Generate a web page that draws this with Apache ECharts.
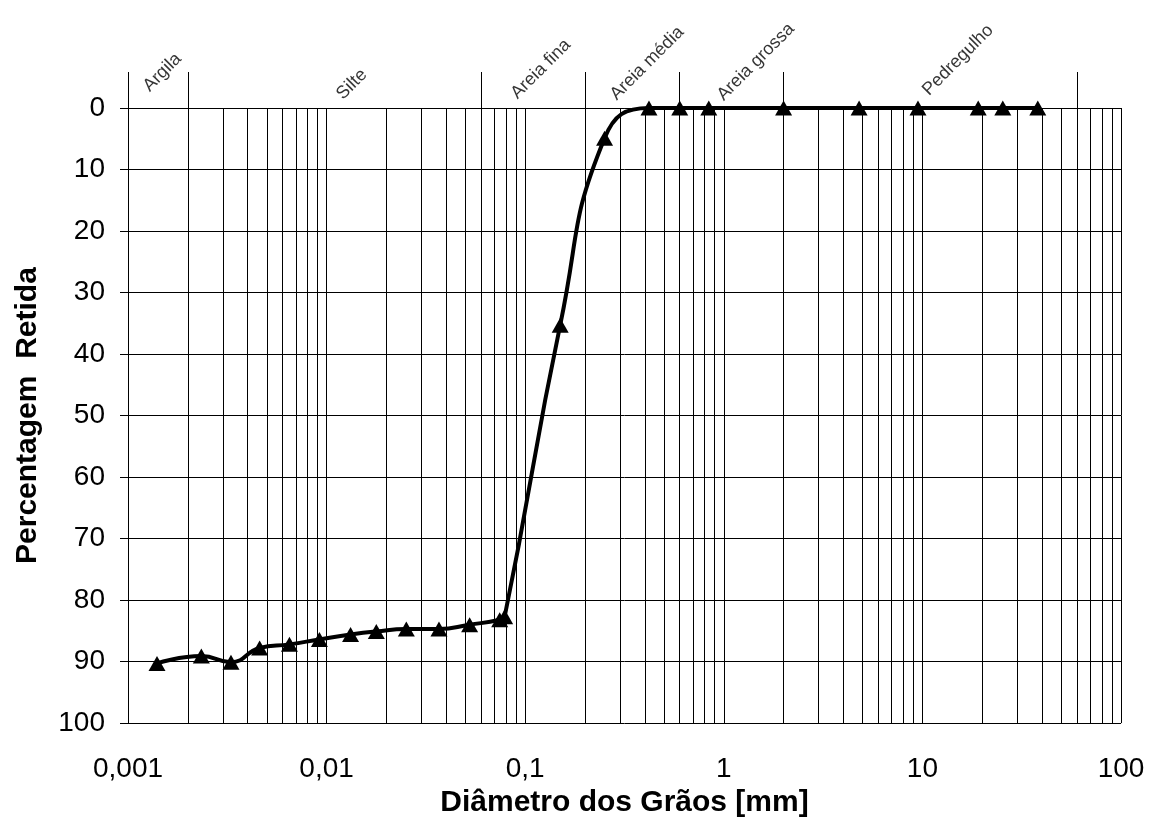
<!DOCTYPE html>
<html>
<head>
<meta charset="utf-8">
<title>Curva granulométrica</title>
<script src="https://cdn.jsdelivr.net/npm/echarts@6/dist/echarts.min.js"></script>
<style>
  html, body { margin: 0; padding: 0; background: #ffffff; }
  #chart { width: 1158px; height: 823px; }
</style>
</head>
<body>
<div id="chart"></div>
<script>
// Grain diameter (mm) of each sieve / sedimentation reading
const diametros = [0.0014, 0.00234, 0.0033, 0.0046, 0.0065, 0.0092, 0.0132, 0.0178, 0.0252, 0.0368, 0.0525,
                   0.0744, 0.0788, 0.150, 0.251, 0.42, 0.60, 0.84, 2.0, 4.8, 9.5, 19.1, 25.4, 38.1];
// Percentage retained for each diameter
const retida = [90.3, 89.1, 90.1, 87.8, 87.2, 86.4, 85.6, 85.1, 84.7, 84.7, 84.0,
                83.2, 82.7, 35.3, 4.9, 0, 0, 0, 0, 0, 0, 0, 0, 0];

// Soil fraction limits (mm) and their names
const limitesFracoes = [0.001, 0.002, 0.06, 0.2, 0.6, 2, 60];
const nomesFracoes = ['Argila', 'Silte', 'Areia fina', 'Areia média', 'Areia grossa', 'Pedregulho'];

// Decades of the logarithmic diameter axis
const decadas = [0.001, 0.01, 0.1, 1, 10];
const multiplosMenores = [2, 3, 4, 5, 6, 7, 8, 9];
const gradeMenor = [];
decadas.forEach(d => multiplosMenores.forEach(m => gradeMenor.push(+(m * d).toPrecision(3))));

// Where each fraction name is centred in the header strip: [diameter, height in strip units]
const ancoraNomes = [[0.00149, 0.99], [0.0134, 0.66], [0.120, 1.08], [0.411, 1.24], [1.45, 1.28], [15.1, 1.33]];

const FONTE = '"Liberation Sans", Arial, Helvetica, sans-serif';

const chart = echarts.init(document.getElementById('chart'), null, { renderer: 'canvas' });

const linhaPreta = { color: '#000000', width: 1, type: 'solid' };

chart.setOption({
  backgroundColor: '#ffffff',
  animation: false,
  grid: [
    { left: 128, right: 37, top: 108, bottom: 98 },
    { left: 128, right: 37, top: 72, height: 36 }
  ],
  xAxis: [
    {
      type: 'log', logBase: 10, min: 0.001, max: 100, gridIndex: 0,
      axisLine: { show: true, lineStyle: linhaPreta },
      axisTick: { show: true, length: 10, lineStyle: linhaPreta },
      splitLine: { show: true, lineStyle: linhaPreta },
      axisLabel: {
        color: '#000', fontSize: 28, fontFamily: FONTE, margin: 32,
        formatter: v => String(+Number(v).toPrecision(4)).replace('.', ',')
      },
      name: 'Diâmetro dos Grãos [mm]',
      nameLocation: 'middle', nameGap: 53,
      nameTextStyle: { color: '#000', fontSize: 30, fontWeight: 'bold', fontFamily: FONTE }
    },
    {
      type: 'log', logBase: 10, min: 0.001, max: 100, gridIndex: 1, show: false
    }
  ],
  yAxis: [
    {
      type: 'value', inverse: true, min: 0, max: 100, interval: 10, gridIndex: 0,
      axisLine: { show: true, lineStyle: linhaPreta },
      axisTick: { show: true, length: 8, lineStyle: linhaPreta },
      splitLine: { show: true, lineStyle: linhaPreta },
      axisLabel: { color: '#000', fontSize: 28, fontFamily: FONTE, margin: 23 },
      name: 'Percentagem  Retida',
      nameLocation: 'middle', nameGap: 85, nameRotate: 90,
      nameTextStyle: { color: '#000', fontSize: 30, fontWeight: 'bold', fontFamily: FONTE }
    },
    { type: 'value', min: 0, max: 1, gridIndex: 1, show: false }
  ],
  series: [
    {
      // minor logarithmic grid lines (2..9 of each decade)
      type: 'line', xAxisIndex: 0, yAxisIndex: 0, data: [], silent: true, z: 1,
      markLine: {
        silent: true, symbol: ['none', 'none'], animation: false, precision: 8,
        label: { show: false },
        lineStyle: linhaPreta,
        data: gradeMenor.map(v => ({ xAxis: v }))
      }
    },
    {
      // soil fraction names and limit lines above the plot
      type: 'scatter', xAxisIndex: 1, yAxisIndex: 1, silent: true, z: 1, clip: false,
      symbolSize: 0,
      data: nomesFracoes.map((n, i) => ({ value: ancoraNomes[i], name: n })),
      label: {
        show: true, position: [0, 0], align: 'center', verticalAlign: 'middle', rotate: 45,
        formatter: p => p.name,
        color: '#000', fontSize: 18, fontFamily: FONTE
      },
      markLine: {
        silent: true, symbol: ['none', 'none'], animation: false, precision: 8,
        label: { show: false },
        lineStyle: linhaPreta,
        data: limitesFracoes.map(v => ({ xAxis: v }))
      }
    },
    {
      name: 'Percentagem Retida',
      type: 'line', xAxisIndex: 0, yAxisIndex: 0, z: 3,
      data: diametros.map((d, i) => [d, retida[i]]),
      smooth: 0.5,
      showAllSymbol: true,
      symbol: 'triangle', symbolSize: [17, 15],
      itemStyle: { color: '#000' },
      lineStyle: { color: '#000', width: 4 }
    }
  ]
});
</script>
</body>
</html>
